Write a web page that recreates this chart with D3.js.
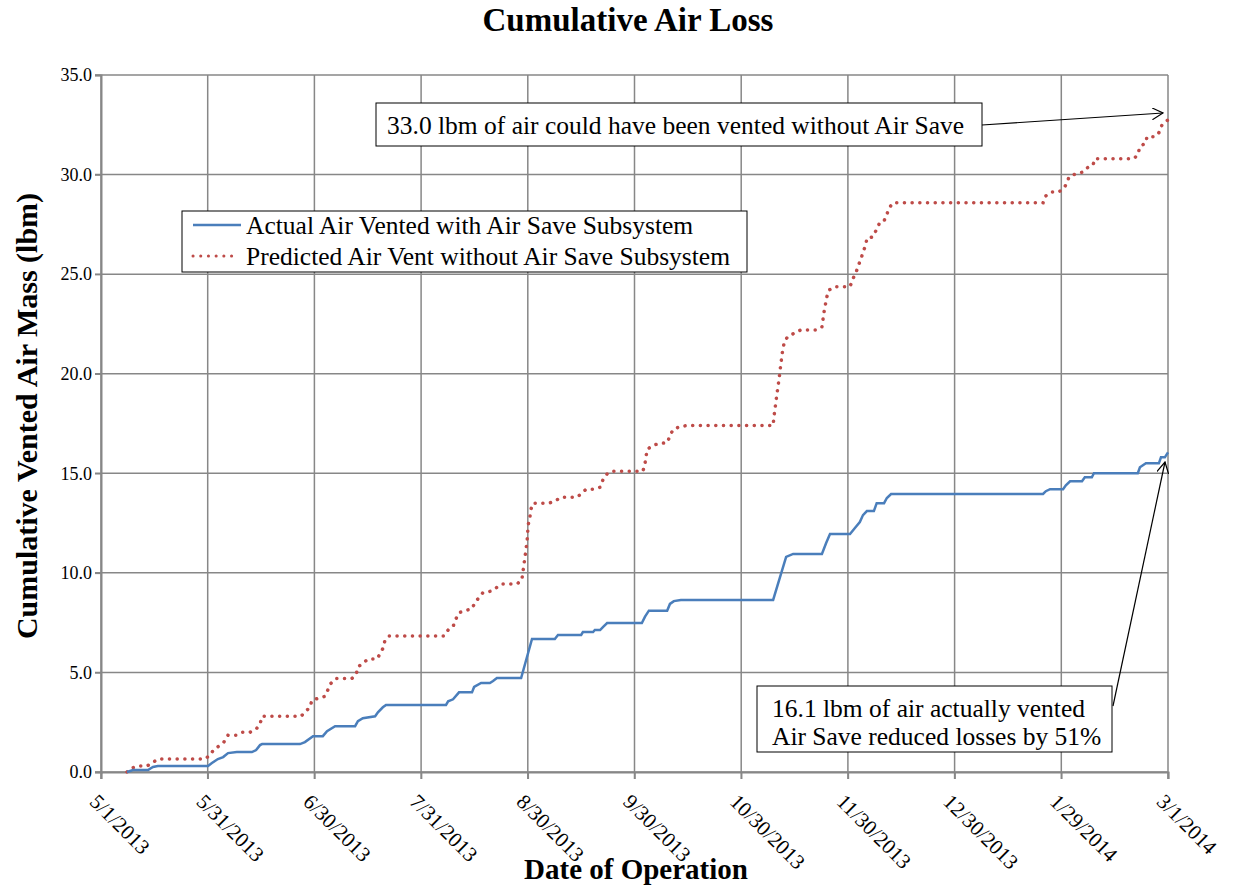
<!DOCTYPE html>
<html>
<head>
<meta charset="utf-8">
<script src="https://cdn.jsdelivr.net/npm/d3@7"></script>
<style>
  body { margin: 0; background: #fff; }
  svg text { font-family: "Liberation Serif", "Times New Roman", serif; fill: #000; }
</style>
</head>
<body>
<div class="canvas"></div>
<script>
// days since 5/1/2013 and cumulative lbm
const actualDays = [7.4, 9.1, 13.4, 14.8, 16.2, 30.5, 31.6, 33.3, 34.8, 36.2, 38.7, 43.0, 44.2, 45.3, 45.9, 56.7, 58.1, 60.4, 63.2, 64.4, 66.7, 72.4, 73.2, 74.6, 78.1, 78.9, 80.3, 81.2, 98.3, 98.9, 100.3, 102.0, 105.7, 106.3, 108.3, 110.8, 111.7, 112.8, 119.7, 122.8, 129.3, 130.2, 136.8, 137.3, 140.2, 140.7, 142.2, 143.0, 144.2, 154.1, 155.0, 156.1, 161.3, 162.1, 163.2, 165.2, 191.5, 195.2, 197.2, 205.4, 206.6, 207.7, 213.4, 214.8, 216.2, 217.1, 218.2, 220.2, 221.0, 223.1, 223.9, 225.1, 268.4, 269.2, 270.4, 274.1, 274.9, 276.1, 279.5, 280.3, 282.3, 282.9, 295.4, 296.0, 297.7, 301.4, 302.0, 303.1, 304.0];
const actualLbm = [0, 0.1, 0.1, 0.25, 0.3, 0.3, 0.45, 0.65, 0.75, 0.95, 1.0, 1.0, 1.1, 1.35, 1.4, 1.4, 1.5, 1.8, 1.8, 2.05, 2.3, 2.3, 2.55, 2.7, 2.8, 3.0, 3.25, 3.37, 3.37, 3.55, 3.65, 4.0, 4.0, 4.27, 4.47, 4.47, 4.57, 4.72, 4.72, 6.68, 6.68, 6.88, 6.88, 7.03, 7.03, 7.13, 7.13, 7.28, 7.48, 7.48, 7.8, 8.1, 8.1, 8.44, 8.58, 8.64, 8.64, 10.8, 10.95, 10.95, 11.5, 11.95, 11.95, 12.25, 12.55, 12.9, 13.1, 13.1, 13.5, 13.5, 13.76, 13.96, 13.96, 14.1, 14.2, 14.2, 14.4, 14.6, 14.6, 14.8, 14.8, 15.0, 15.0, 15.3, 15.5, 15.5, 15.8, 15.8, 16.05];

const predictedDays = [7.4, 8.8, 10.8, 13.1, 14.5, 16.2, 29.6, 31.1, 32.2, 33.6, 35.0, 36.2, 38.5, 40.2, 42.5, 44.2, 45.3, 45.9, 57.0, 58.1, 59.5, 60.1, 61.8, 63.8, 64.7, 65.5, 67.0, 71.5, 72.7, 73.2, 74.6, 76.1, 78.6, 79.5, 80.3, 80.9, 82.1, 97.7, 98.9, 100.3, 101.1, 102.0, 103.7, 105.7, 106.6, 107.7, 108.8, 111.1, 112.5, 114.2, 118.5, 119.9, 120.2, 120.8, 121.4, 121.7, 122.2, 122.5, 123.1, 127.6, 129.3, 131.1, 135.6, 137.0, 138.2, 140.2, 142.2, 143.0, 144.2, 145.3, 154.4, 155.0, 155.6, 157.3, 159.0, 161.3, 162.1, 163.0, 165.0, 167.0, 191.5, 191.7, 192.6, 193.2, 193.7, 194.3, 194.9, 196.0, 199.4, 204.0, 205.4, 206.0, 206.8, 207.4, 209.1, 213.4, 214.2, 215.1, 215.7, 216.5, 217.1, 217.9, 218.2, 219.9, 221.0, 221.9, 223.1, 223.9, 224.5, 225.6, 268.4, 269.2, 270.9, 272.9, 274.4, 275.2, 275.8, 277.6, 279.8, 280.9, 282.6, 283.2, 294.3, 295.4, 296.0, 297.7, 298.0, 300.3, 301.4, 302.3, 304.0];
const predictedLbm = [0, 0.2, 0.3, 0.3, 0.45, 0.65, 0.65, 0.85, 1.15, 1.3, 1.5, 1.85, 1.85, 2.0, 2.0, 2.15, 2.4, 2.8, 2.8, 3.0, 3.25, 3.6, 3.7, 3.8, 4.15, 4.45, 4.7, 4.7, 4.9, 5.27, 5.47, 5.67, 5.67, 5.93, 6.2, 6.6, 6.83, 6.83, 7.13, 7.3, 7.68, 8.0, 8.1, 8.2, 8.53, 8.75, 9.0, 9.08, 9.24, 9.44, 9.44, 9.64, 10.04, 10.8, 11.6, 12.4, 12.8, 13.2, 13.5, 13.5, 13.6, 13.8, 13.8, 14.0, 14.2, 14.2, 14.3, 14.67, 14.97, 15.1, 15.1, 15.5, 16.2, 16.4, 16.5, 16.53, 16.88, 17.2, 17.34, 17.4, 17.4, 17.8, 19.0, 19.75, 20.5, 21.3, 21.7, 21.9, 22.2, 22.2, 22.35, 23.1, 23.86, 24.2, 24.37, 24.37, 24.76, 25.07, 25.4, 25.75, 26.1, 26.47, 26.8, 26.87, 27.26, 27.6, 27.67, 28.0, 28.3, 28.58, 28.58, 28.93, 29.13, 29.13, 29.33, 29.58, 29.88, 30.03, 30.13, 30.33, 30.47, 30.8, 30.8, 31.0, 31.4, 31.6, 31.9, 31.9, 32.1, 32.5, 32.75];

const dateLabels = ['5/1/2013', '5/31/2013', '6/30/2013', '7/31/2013', '8/30/2013', '9/30/2013',
  '10/30/2013', '11/30/2013', '12/30/2013', '1/29/2014', '3/1/2014'];
const yTicks = [0, 5, 10, 15, 20, 25, 30, 35];
const seriesNames = ['Actual Air Vented with Air Save Subsystem', 'Predicted Air Vent without Air Save Subsystem'];
const totalDays = 304;

const dims = { width: 1241, height: 890 };
const plot = { left: 101, right: 1168, top: 75, bottom: 772 };
const serif = '"Liberation Serif", "Times New Roman", serif';
const gridColour = '#878787';
const blue = '#4a7ebb';
const red = '#be4b48';

const svg = d3.select('.canvas')
  .append('svg')
  .attr('width', dims.width)
  .attr('height', dims.height);

const x = d3.scaleLinear().domain([0, totalDays]).range([plot.left, plot.right]);
const y = d3.scaleLinear().domain([0, 35]).range([plot.bottom, plot.top]);
const xTickVals = dateLabels.map((d, i) => i * totalDays / (dateLabels.length - 1));

// grid lines
svg.append('g')
  .selectAll('line')
  .data(xTickVals)
  .enter().append('line')
    .attr('x1', d => x(d)).attr('x2', d => x(d))
    .attr('y1', plot.top).attr('y2', plot.bottom + 7)
    .attr('stroke', gridColour).attr('stroke-width', 1.5);

svg.append('g')
  .selectAll('line')
  .data(yTicks)
  .enter().append('line')
    .attr('x1', plot.left - 6).attr('x2', plot.right)
    .attr('y1', d => y(d)).attr('y2', d => y(d))
    .attr('stroke', gridColour).attr('stroke-width', 1.5);

// y axis
const yAxis = svg.append('g')
  .attr('transform', `translate(${plot.left}, 0)`)
  .call(d3.axisLeft(y).tickValues(yTicks).tickFormat(d3.format('.1f')).tickSize(6).tickPadding(3));
yAxis.select('.domain').attr('stroke', gridColour).attr('stroke-width', 2);
yAxis.selectAll('.tick line').attr('stroke', gridColour).attr('stroke-width', 1.5);
yAxis.selectAll('text')
  .style('font-family', serif)
  .style('font-size', '18px')
  .attr('fill', '#000');

// x axis
const xAxis = svg.append('g')
  .attr('transform', `translate(0, ${plot.bottom})`)
  .call(d3.axisBottom(x).tickValues(xTickVals).tickFormat((d, i) => dateLabels[i]).tickSize(7));
xAxis.select('.domain').attr('stroke', gridColour).attr('stroke-width', 2);
xAxis.selectAll('.tick line').attr('stroke', gridColour).attr('stroke-width', 1.5);
xAxis.selectAll('text')
  .style('font-family', serif)
  .style('font-size', '21px')
  .attr('fill', '#000')
  .attr('text-anchor', 'start')
  .attr('dy', null)
  .attr('y', 0)
  .attr('transform', 'translate(-13, 31) rotate(45)');

// series
const line = d3.line().x(d => x(d[0])).y(d => y(d[1]));
const actual = d3.zip(actualDays, actualLbm);
const predicted = d3.zip(predictedDays, predictedLbm);

svg.append('path')
  .datum(predicted)
  .attr('d', line)
  .attr('fill', 'none')
  .attr('stroke', red)
  .attr('stroke-width', 3.5)
  .attr('stroke-linecap', 'round')
  .attr('stroke-dasharray', '0.1 7.6');

svg.append('path')
  .datum(actual)
  .attr('d', line)
  .attr('fill', 'none')
  .attr('stroke', blue)
  .attr('stroke-width', 2.5);

// titles
svg.append('text')
  .attr('x', 628).attr('y', 31)
  .attr('text-anchor', 'middle')
  .style('font-family', serif)
  .style('font-size', '33px').style('font-weight', 'bold')
  .text('Cumulative Air Loss');

svg.append('text')
  .attr('x', 636).attr('y', 879)
  .attr('text-anchor', 'middle')
  .style('font-family', serif)
  .style('font-size', '29px').style('font-weight', 'bold')
  .text('Date of Operation');

svg.append('text')
  .attr('transform', 'translate(37, 416) rotate(-90)')
  .attr('text-anchor', 'middle')
  .style('font-family', serif)
  .style('font-size', '30px').style('font-weight', 'bold')
  .text('Cumulative Vented Air Mass (lbm)');

// legend
const legend = svg.append('g').attr('transform', 'translate(182, 211)');
legend.append('rect')
  .attr('width', 565).attr('height', 61)
  .attr('fill', '#fff').attr('stroke', '#000').attr('stroke-width', 1);

const legendItem = legend.selectAll('.legend')
  .data(seriesNames)
  .enter().append('g')
  .attr('class', 'legend')
  .attr('transform', (d, i) => `translate(0, ${14 + i * 31})`);

legendItem.append('line')
  .attr('x1', 11).attr('x2', (d, i) => i === 0 ? 59 : 54)
  .attr('y1', 0).attr('y2', 0)
  .attr('stroke', (d, i) => i === 0 ? blue : red)
  .attr('stroke-width', (d, i) => i === 0 ? 2.5 : 3)
  .attr('stroke-linecap', (d, i) => i === 0 ? 'butt' : 'round')
  .attr('stroke-dasharray', (d, i) => i === 0 ? null : '0.1 7.6');

legendItem.append('text')
  .attr('x', 64).attr('y', 9)
  .style('font-family', serif)
  .style('font-size', '25.5px')
  .text(d => d);

// annotations
const defs = svg.append('defs');
defs.append('marker')
  .attr('id', 'open-arrow')
  .attr('viewBox', '0 0 12 12')
  .attr('refX', 11).attr('refY', 6)
  .attr('markerWidth', 12).attr('markerHeight', 12)
  .attr('markerUnits', 'userSpaceOnUse')
  .attr('orient', 'auto')
  .append('path')
    .attr('d', 'M0,0 L11,6 L0,12')
    .attr('fill', 'none').attr('stroke', '#000').attr('stroke-width', 1.2);

svg.append('line')
  .attr('x1', 982).attr('y1', 125)
  .attr('x2', 1163).attr('y2', 113)
  .attr('stroke', '#000').attr('stroke-width', 1.2)
  .attr('marker-end', 'url(#open-arrow)');

svg.append('rect')
  .attr('x', 376).attr('y', 103).attr('width', 606).attr('height', 43)
  .attr('fill', '#fff').attr('stroke', '#000').attr('stroke-width', 1);
svg.append('text')
  .attr('x', 387).attr('y', 134)
  .style('font-family', serif)
  .style('font-size', '25.5px')
  .text('33.0 lbm of air could have been vented without Air Save');

svg.append('line')
  .attr('x1', 1113).attr('y1', 706)
  .attr('x2', 1165).attr('y2', 462)
  .attr('stroke', '#000').attr('stroke-width', 1.2)
  .attr('marker-end', 'url(#open-arrow)');

svg.append('rect')
  .attr('x', 757).attr('y', 686).attr('width', 355).attr('height', 66)
  .attr('fill', '#fff').attr('stroke', '#000').attr('stroke-width', 1);
svg.append('text')
  .attr('x', 772).attr('y', 717)
  .style('font-family', serif)
  .style('font-size', '25.5px')
  .text('16.1 lbm of air actually vented');
svg.append('text')
  .attr('x', 772).attr('y', 745)
  .style('font-family', serif)
  .style('font-size', '25.5px')
  .text('Air Save reduced losses by 51%');
</script>
</body>
</html>
